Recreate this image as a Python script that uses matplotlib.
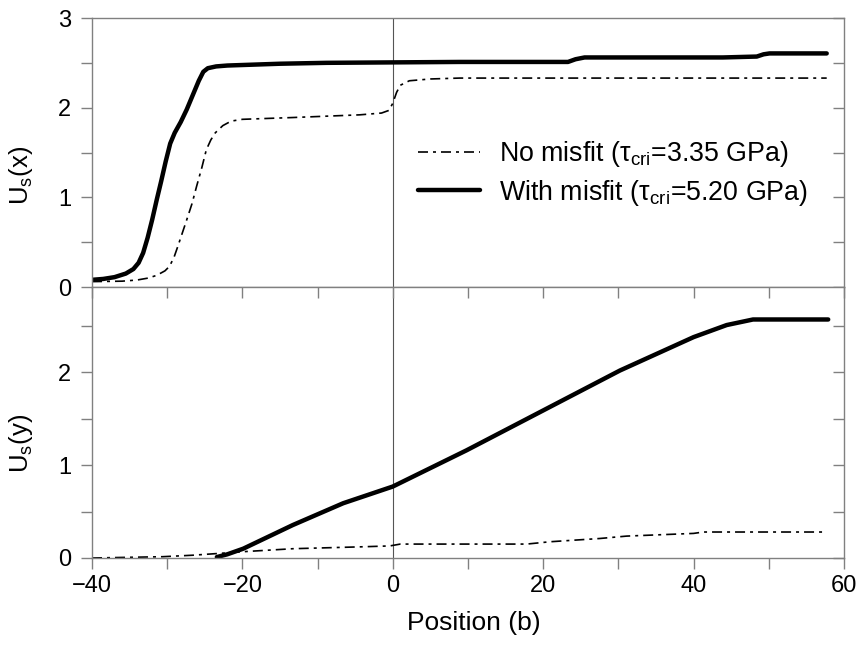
import matplotlib
matplotlib.use("Agg")
import matplotlib.pyplot as plt
import matplotlib.lines as mlines
from matplotlib.ticker import MultipleLocator

plt.rcParams['font.family'] = ['Liberation Sans', 'DejaVu Sans']
plt.rcParams['mathtext.fontset'] = 'custom'
plt.rcParams['mathtext.rm'] = 'Liberation Sans'
plt.rcParams['mathtext.it'] = 'Liberation Sans:italic'
plt.rcParams['axes.unicode_minus'] = True

# Top panel: U_s(x)
x_nomis_x = [-40, -36, -34, -32.5, -31.4, -30.3, -29.7, -29.1, -28.6, -28.0, -27.4, -26.7, -26.1, -25.4,
             -24.8, -24.2, -23.6, -22.6, -21.5, -20, -13.3, -4.4, -1.5, -0.5, 0.0, 0.5, 1.0, 2.2, 5, 8.9, 57.7]
u_nomis_x = [0.06, 0.065, 0.078, 0.10, 0.13, 0.18, 0.23, 0.33, 0.45, 0.60, 0.75, 0.93, 1.12, 1.33,
             1.53, 1.64, 1.72, 1.80, 1.85, 1.87, 1.89, 1.92, 1.94, 1.97, 2.05, 2.17, 2.25, 2.30, 2.32, 2.33, 2.33]
x_mis_x = [-40, -38.5, -37, -35.5, -34.5, -33.8, -33.2, -32.6, -32.0, -31.4, -30.8, -30.2, -29.6, -29.0,
           -28.2, -27.4, -26.6, -25.8, -25.2, -24.6, -23.5, -22, -15, -8.8, 8.9, 23.3, 24.3, 25.5, 43.9,
           48.4, 49.3, 50.1, 57.7]
u_mis_x = [0.08, 0.09, 0.11, 0.15, 0.20, 0.27, 0.38, 0.55, 0.75, 0.97, 1.18, 1.40, 1.60, 1.72,
           1.84, 1.98, 2.14, 2.30, 2.40, 2.44, 2.46, 2.47, 2.49, 2.50, 2.51, 2.51, 2.54, 2.56, 2.56,
           2.57, 2.595, 2.605, 2.605]

# Bottom panel: U_s(y)
x_nomis_y = [-40, -30.6, -26.6, -23.0, -19.9, -13.3, -4.4, -0.4, 1.0, 8.9, 17.8, 20.9, 27.5, 31.1, 40.0, 41.3, 57.4]
u_nomis_y = [0.0, 0.014, 0.03, 0.05, 0.068, 0.10, 0.12, 0.13, 0.15, 0.15, 0.15, 0.175, 0.21, 0.236, 0.265, 0.28, 0.28]
x_mis_y = [-23.4, -22.0, -19.9, -13.3, -6.6, 0.0, 9.8, 20.0, 30.2, 40.0, 44.4, 47.9, 57.9]
u_mis_y = [0.01, 0.04, 0.10, 0.355, 0.59, 0.77, 1.16, 1.59, 2.02, 2.38, 2.51, 2.57, 2.57]

labels = ['No misfit (τ$_{\\mathrm{cri}}$=3.35 GPa)', 'With misfit (τ$_{\\mathrm{cri}}$=5.20 GPa)']

W, H = 863, 648
fig = plt.figure(figsize=(W / 100, H / 100), dpi=100)
left, right = 92 / W, 844 / W
ax1 = fig.add_axes([left, 1 - 287 / H, right - left, (287 - 18) / H])
ax2 = fig.add_axes([left, 1 - 558 / H, right - left, (558 - 287) / H])

dd = (0, (6, 3, 1.8, 3))
spine_col = '#808080'

for ax in (ax1, ax2):
    ax.set_xlim(-40, 60)
    ax.axvline(0, color='#555555', lw=0.8, zorder=1)
    for s in ax.spines.values():
        s.set_color(spine_col)
        s.set_linewidth(1.0)
    ax.xaxis.set_major_locator(MultipleLocator(20))
    ax.xaxis.set_minor_locator(MultipleLocator(10))
    ax.yaxis.set_major_locator(MultipleLocator(1))
    ax.yaxis.set_minor_locator(MultipleLocator(0.5))
    ax.tick_params(axis='y', which='both', left=True, right=True, direction='out', length=8, width=1,
                   colors=spine_col, labelcolor='black', labelsize=17, pad=7)
    ax.tick_params(axis='x', which='both', length=8, width=1, colors=spine_col, labelcolor='black',
                   labelsize=17, pad=4)
    for t in ax.yaxis.get_major_ticks() + ax.yaxis.get_minor_ticks():
        t.tick2line.set_marker(mlines.TICKLEFT)

ax1.plot(x_nomis_x, u_nomis_x, color='black', lw=1.2, linestyle=dd, label=labels[0])
ax1.plot(x_mis_x, u_mis_x, color='black', lw=3.2, label=labels[1], solid_capstyle='round')
ax1.set_ylim(0, 3)
ax1.tick_params(axis='x', which='both', bottom=False, top=False, labelbottom=False)
ax1.set_ylabel('U$_{\\mathrm{s}}$(x)', fontsize=18.5)
ax1.yaxis.set_label_coords(-0.076, 0.416)
ax1.legend(loc='center left', bbox_to_anchor=(0.4335, 0.422), frameon=False, fontsize=19.3,
           handlelength=2.3, handletextpad=0.72, labelspacing=0.3, borderaxespad=0, borderpad=0)

ax2.plot(x_nomis_y, u_nomis_y, color='black', lw=1.2, linestyle=dd)
ax2.plot(x_mis_y, u_mis_y, color='black', lw=3.2, solid_capstyle='round')
ax2.set_ylim(0, 2.92)
ax2.tick_params(axis='x', which='both', bottom=True, top=True, direction='out')
for t in ax2.xaxis.get_major_ticks() + ax2.xaxis.get_minor_ticks():
    t.tick2line.set_marker(mlines.TICKDOWN)
ax2.set_xlabel('Position (b)', fontsize=19)
ax2.xaxis.set_label_coords(0.508, -0.195)
ax2.set_ylabel('U$_{\\mathrm{s}}$(y)', fontsize=18.5)
ax2.yaxis.set_label_coords(-0.076, 0.424)

fig.savefig('out.png', dpi=100)
